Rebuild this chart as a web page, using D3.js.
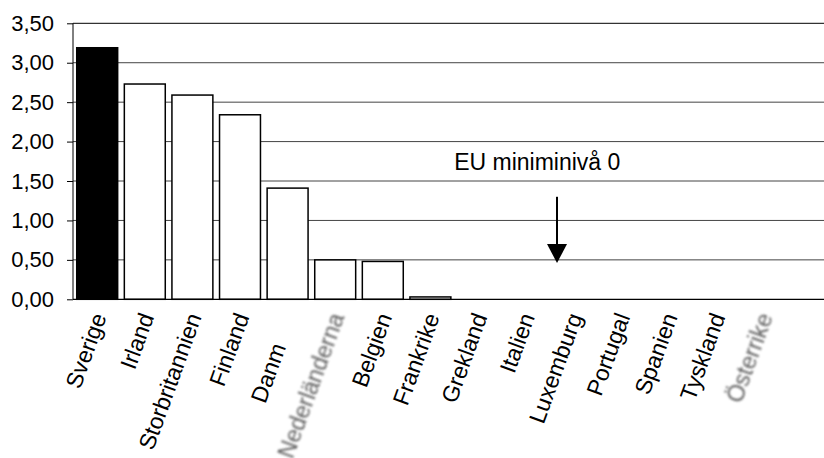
<!DOCTYPE html>
<html>
<head>
<meta charset="utf-8">
<script src="https://cdn.jsdelivr.net/npm/d3@7"></script>
<style>
  html, body { margin: 0; padding: 0; background: #fff; }
  svg { display: block; }
  text { font-family: "Liberation Sans", Arial, sans-serif; fill: #000; }
</style>
</head>
<body>
<svg id="chart" width="824" height="458"></svg>
<script>
// Countries, ordered by value
const categories = ["Sverige", "Irland", "Storbritannien", "Finland", "Danmark",
  "Nederländerna", "Belgien", "Frankrike", "Grekland", "Italien", "Luxemburg",
  "Portugal", "Spanien", "Tyskland", "Österrike"];
const values = [3.19, 2.73, 2.59, 2.34, 1.41, 0.50, 0.48, 0.03, 0, 0, 0, 0, 0, 0, 0];
const highlighted = ["Sverige"];
// Labels that were pasted in as soft grey images
const softLabels = ["Nederländerna", "Österrike"];

const yTickValues = [0, 0.5, 1, 1.5, 2, 2.5, 3, 3.5];
const yTickLabels = ["0,00", "0,50", "1,00", "1,50", "2,00", "2,50", "3,00", "3,50"];

// Annotation: text and arrow, positioned in category-index / value units
const noteText = "EU miniminivå 0";
const notePos = [7.5, 1.64];
const arrowIndex = 9.66;
const arrowFrom = 1.30;
const arrowTo = 0.46;

const W = 824, H = 458;
const svg = d3.select("#chart");

const y = d3.scaleLinear().domain([0, 3.5]).range([299.3, 23.3]);
const x = d3.scaleBand().domain(categories).range([73.4, 787.4])
  .paddingInner(0.14).paddingOuter(0.07);
const step = x.step();
const bw = x.bandwidth();
const xc = c => x(c) + bw / 2;
const xi = i => xc(categories[0]) + i * step;

const axisX = 73;

// Horizontal gridlines
svg.append("g")
  .selectAll("line")
  .data(yTickValues.filter(v => v > 0))
  .join("line")
  .attr("x1", axisX).attr("x2", W)
  .attr("y1", d => y(d)).attr("y2", d => y(d))
  .attr("stroke", d => d === 3.5 ? "#000" : "#444")
  .attr("stroke-width", 1);

// Bars
svg.append("g")
  .selectAll("rect")
  .data(categories)
  .join("rect")
  .attr("x", d => x(d))
  .attr("width", bw)
  .attr("y", (d, i) => y(values[i]))
  .attr("height", (d, i) => y(0) - y(values[i]))
  .attr("fill", d => highlighted.includes(d) ? "#000" : "#fff")
  .attr("stroke", "#000")
  .attr("stroke-width", 1.5);

// Baseline
svg.append("line")
  .attr("x1", axisX).attr("x2", W)
  .attr("y1", y(0)).attr("y2", y(0))
  .attr("stroke", "#000").attr("stroke-width", 1.2);

// Y axis
const yAxis = d3.axisLeft(y)
  .tickValues(yTickValues)
  .tickSize(6)
  .tickPadding(13)
  .tickFormat((d, i) => yTickLabels[i]);
const gy = svg.append("g").attr("transform", `translate(${axisX},0)`).call(yAxis);
gy.select(".domain").attr("stroke", "#000").attr("d", `M0,${y(3.5)}V${y(0)}`);
gy.selectAll(".tick line").attr("stroke", "#000");
gy.selectAll(".tick text")
  .style("font-family", '"Liberation Sans", Arial, sans-serif')
  .style("font-size", "22px")
  .attr("fill", "#000");

// Blur filter for the soft labels
const defs = svg.append("defs");
defs.append("filter").attr("id", "soft")
  .attr("x", "-20%").attr("y", "-20%").attr("width", "140%").attr("height", "140%")
  .append("feGaussianBlur").attr("stdDeviation", 0.9);

// Category labels
const labelY = 314;
const labelSize = "23px";
const sharp = categories.filter(c => !softLabels.includes(c));
svg.append("g")
  .selectAll("text")
  .data(sharp)
  .join("text")
  .attr("transform", d => `translate(${xc(d) + 2},${labelY}) rotate(-70)`)
  .attr("text-anchor", "end")
  .attr("dy", "0.35em")
  .style("font-size", labelSize)
  .text(d => d);

// White backdrop of the pasted Nederländerna label, covering the end of its neighbour
const nl = "Nederländerna";
svg.append("rect")
  .attr("x", xc(nl) - 74).attr("y", labelY - 4)
  .attr("width", 40).attr("height", 35)
  .attr("fill", "#fff");

svg.append("g")
  .selectAll("text")
  .data(softLabels)
  .join("text")
  .attr("transform", d => `translate(${xc(d) + 2},${labelY}) rotate(-70)`)
  .attr("text-anchor", "end")
  .attr("dy", "0.35em")
  .style("font-size", labelSize)
  .style("fill", "#5f5f5f")
  .attr("filter", "url(#soft)")
  .text(d => d);

// Annotation
svg.append("text")
  .attr("x", xi(notePos[0]))
  .attr("y", y(notePos[1]))
  .style("font-size", "23px")
  .text(noteText);

const ax = xi(arrowIndex);
const headLen = 19, headHalf = 10;
svg.append("line")
  .attr("x1", ax).attr("x2", ax)
  .attr("y1", y(arrowFrom)).attr("y2", y(arrowTo) - headLen + 1)
  .attr("stroke", "#000").attr("stroke-width", 2);
svg.append("path")
  .attr("d", `M${ax - headHalf},${y(arrowTo) - headLen}L${ax + headHalf},${y(arrowTo) - headLen}L${ax},${y(arrowTo)}Z`)
  .attr("fill", "#000");
</script>
</body>
</html>
